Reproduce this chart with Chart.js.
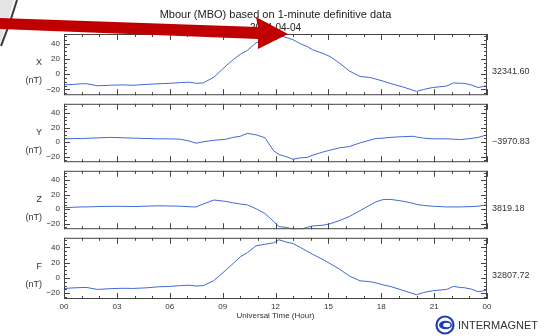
<!DOCTYPE html>
<html>
<head>
<meta charset="utf-8">
<script src="https://cdn.jsdelivr.net/npm/chart.js@4.4.1/dist/chart.umd.min.js"></script>
<style>
  html, body { margin: 0; padding: 0; background: #fff; }
  #wrap { position: relative; width: 554px; height: 336px; overflow: hidden; }
  canvas { position: absolute; left: 0; }
</style>
</head>
<body>
<div id="wrap">
  <canvas id="cx" width="554" height="104" style="top:0px"></canvas>
  <canvas id="cy" width="554" height="76" style="top:95px"></canvas>
  <canvas id="cz" width="554" height="76" style="top:162px"></canvas>
  <canvas id="cf" width="554" height="107" style="top:229px"></canvas>
</div>
<script>
// hours (UT) where the curves were read
var hours = [0, 0.5, 1, 1.3, 1.9, 2.6, 3.3, 3.9, 4.6, 5.4, 6.0, 6.6, 7.1, 7.5, 7.9, 8.5, 9.2, 9.6, 10.0, 10.4,
  10.9, 11.4, 11.9, 12.2, 12.6, 13.0, 13.4, 13.8, 14.1, 14.7, 15.1, 15.6, 16.2, 16.8, 17.4, 17.7, 18.1, 18.5,
  19.2, 19.8, 20.0, 20.4, 20.9, 21.7, 22.1, 22.5, 22.7, 23.1, 23.5, 24];

// variations in nT around the daily baseline
var xValues = [-14, -13.5, -12.5, -12.5, -15.2, -14.5, -14, -14.5, -13.5, -12.5, -12, -11, -10.5, -12, -11.5, -4, 11, 19, 26, 31,
  41, 44, 46, 51, 48, 45, 40, 36, 32, 27, 23, 15, 4, -3, -4.5, -6.5, -9, -12,
  -16.5, -21, -22.5, -20, -17.5, -15.5, -11.5, -12, -12, -14, -17.5, -15];
var yValues = [4.5, 4.8, 5, 5.2, 5.8, 6.5, 6, 5.5, 5, 4.5, 4.5, 4, 1.5, -1.5, 0.5, 2.5, 4, 6.5, 8, 12,
  10, 6, -12, -17, -20, -23.5, -21.5, -21, -18, -13.5, -11, -8, -6, -1, 3, 5, 5.5, 6.5,
  7.5, 8, 7, 5.5, 4.5, 4.5, 4, 3.5, 4, 5, 6.5, 10];
var zValues = [2, 2.5, 3, 3, 3.5, 3.8, 3.8, 3.5, 4, 4.6, 4.3, 4, 3.2, 3, 7, 12.5, 10.5, 8.5, 7, 5.8,
  0.5, -6, -17, -24, -25, -27.5, -28, -25, -23, -22, -20, -16, -10, -2, 6, 10, 13, 13.4,
  11, 8, 6.5, 5, 4, 3, 3, 3, 3.2, 3.5, 4, 5.8];
var fValues = [-13.8, -13, -12.5, -12.5, -15, -14, -13.5, -13.7, -13, -11.5, -11, -10, -9.5, -10.5, -10, -3.5, 10.6, 19, 27.6, 33,
  42, 44, 46, 50, 47, 45, 40, 35, 31, 24, 18.7, 12, 2.4, -3.7, -5, -6.5, -9, -11,
  -16, -20.5, -22, -19, -16.7, -15, -11, -12.5, -12.7, -14.5, -18, -16];

var components = ['X', 'Y', 'Z', 'F'];
var baselines = ['32341.60', '\u22123970.83', '3819.18', '32807.72'];
var hourLabels = ['00', '03', '06', '09', '12', '15', '18', '21', '00'];
var yTickValues = [-20, 0, 20, 40];

Chart.defaults.font.family = '"Liberation Sans", Arial, sans-serif';
Chart.defaults.color = '#333';

// box, inward ticks and side labels of one panel
var panelFrame = {
  id: 'panelFrame',
  afterDatasetsDraw: function(chart, args, o) {
    var ctx = chart.ctx, a = chart.chartArea, xs = chart.scales.x, ys = chart.scales.y;
    ctx.save();
    ctx.strokeStyle = '#444';
    ctx.lineWidth = 1;
    ctx.strokeRect(a.left + 0.5, a.top + 0.5, a.right - a.left - 1, a.bottom - a.top - 1);
    ctx.beginPath();
    for (var h = 0; h <= 24; h++) {
      var px = Math.round(xs.getPixelForValue(h)) + 0.5;
      var len = h % 3 === 0 ? 6 : 3;
      ctx.moveTo(px, a.top); ctx.lineTo(px, a.top + len);
      ctx.moveTo(px, a.bottom); ctx.lineTo(px, a.bottom - len);
    }
    for (var v = -25; v <= 50; v += 5) {
      var py = Math.round(ys.getPixelForValue(v)) + 0.5;
      var l2 = v % 20 === 0 ? 6 : 3;
      ctx.moveTo(a.left, py); ctx.lineTo(a.left + l2, py);
      ctx.moveTo(a.right, py); ctx.lineTo(a.right - l2, py);
    }
    ctx.stroke();
    ctx.fillStyle = '#333';
    ctx.font = '9px "Liberation Sans", Arial, sans-serif';
    ctx.textBaseline = 'middle';
    ctx.textAlign = 'right';
    ctx.fillText(o.comp, 42, a.top + 29);
    ctx.fillText('(nT)', 42, a.top + 47);
    ctx.textAlign = 'left';
    ctx.fillText(o.base, 492, a.top + 38);
    ctx.restore();
  },
  afterDraw: function(chart, args, o) {
    var ctx = chart.ctx;
    ctx.save();
    if (o.top) {
      // pencil-like stroke in the corner
      ctx.fillStyle = '#e4e4e4';
      ctx.beginPath();
      ctx.moveTo(0, 0); ctx.lineTo(14, 0); ctx.quadraticCurveTo(8, 22, 0, 44); ctx.closePath();
      ctx.fill();
      ctx.strokeStyle = '#3a3a3a';
      ctx.lineWidth = 2;
      ctx.beginPath();
      ctx.moveTo(17, 0); ctx.quadraticCurveTo(10, 24, 1, 46);
      ctx.stroke();
      // red arrow
      ctx.fillStyle = '#c00000';
      ctx.beginPath();
      ctx.moveTo(0, 18); ctx.lineTo(258, 27); ctx.lineTo(256, 17); ctx.lineTo(288, 34);
      ctx.lineTo(258, 49); ctx.lineTo(258, 39); ctx.lineTo(0, 29);
      ctx.closePath();
      ctx.fill();
    }
    if (o.logo) {
      var cx = 445, cy = 96;
      ctx.strokeStyle = '#1f3fb4';
      ctx.lineWidth = 2.2;
      ctx.beginPath(); ctx.arc(cx, cy, 8.5, 0, Math.PI * 2); ctx.stroke();
      ctx.fillStyle = '#1f3fb4';
      ctx.beginPath(); ctx.ellipse(cx + 0.5, cy, 6.5, 4.3, 0, 0, Math.PI * 2); ctx.fill();
      ctx.fillStyle = '#fff';
      ctx.beginPath(); ctx.ellipse(cx + 1.8, cy, 3.6, 2.2, 0, 0, Math.PI * 2); ctx.fill();
      ctx.fillStyle = '#333';
      ctx.font = '11px "Liberation Sans", Arial, sans-serif';
      ctx.textAlign = 'left';
      ctx.textBaseline = 'middle';
      ctx.fillText('INTERMAGNET', 458, cy + 0.5);
    }
    ctx.restore();
  }
};

function makePanel(id, idx, values, pad, first, last) {
  var xScale = {
    type: 'linear', min: 0, max: 24, display: last,
    grid: { display: false, drawTicks: false },
    border: { display: false },
    ticks: {
      stepSize: 3, padding: 3, maxRotation: 0, autoSkip: false, color: '#333', font: { size: 8 },
      callback: function(v) { return hourLabels[v / 3]; }
    },
    title: { display: last, text: 'Universal Time (Hour)', color: '#333', font: { size: 8 }, padding: { top: 0, bottom: 8.5 } }
  };
  if (last) xScale.afterFit = function(s) { s.height = 30; };

  return new Chart(document.getElementById(id), {
    type: 'line',
    data: {
      datasets: [{
        data: hours.map(function(h, i) { return { x: h, y: values[i] }; }),
        borderColor: '#4169d8',
        borderWidth: 1,
        pointRadius: 0,
        tension: 0,
        fill: false
      }]
    },
    options: {
      responsive: false,
      animation: false,
      events: [],
      layout: { padding: pad },
      scales: {
        x: xScale,
        y: {
          min: -27.5, max: 52.5,
          afterFit: function(s) { s.width = 64; },
          afterBuildTicks: function(s) { s.ticks = yTickValues.map(function(v) { return { value: v }; }); },
          grid: { display: false, drawTicks: false },
          border: { display: false },
          ticks: {
            padding: 4, color: '#333', font: { size: 8 },
            callback: function(v) { return String(v).replace('-', '\u2212'); }
          }
        }
      },
      plugins: {
        legend: { display: false },
        tooltip: { enabled: false },
        title: {
          display: first, text: 'Mbour (MBO) based on 1-minute definitive data', fullSize: false,
          color: '#222', font: { size: 11, weight: 'normal', lineHeight: '12px' }, padding: { top: 9, bottom: 1 }
        },
        subtitle: {
          display: first, text: '2024-04-04', fullSize: false,
          color: '#222', font: { size: 10, lineHeight: '12px' }, padding: 0
        },
        panelFrame: { comp: components[idx], base: baselines[idx], top: first, logo: last }
      }
    },
    plugins: [panelFrame]
  });
}

makePanel('cx', 0, xValues, { top: 0, bottom: 6, left: 0, right: 67 }, true, false);
makePanel('cy', 1, yValues, { top: 6, bottom: 6, left: 0, right: 67 }, false, false);
makePanel('cz', 2, zValues, { top: 6, bottom: 6, left: 0, right: 67 }, false, false);
makePanel('cf', 3, fValues, { top: 6, bottom: 7, left: 0, right: 67 }, false, true);
</script>
</body>
</html>
